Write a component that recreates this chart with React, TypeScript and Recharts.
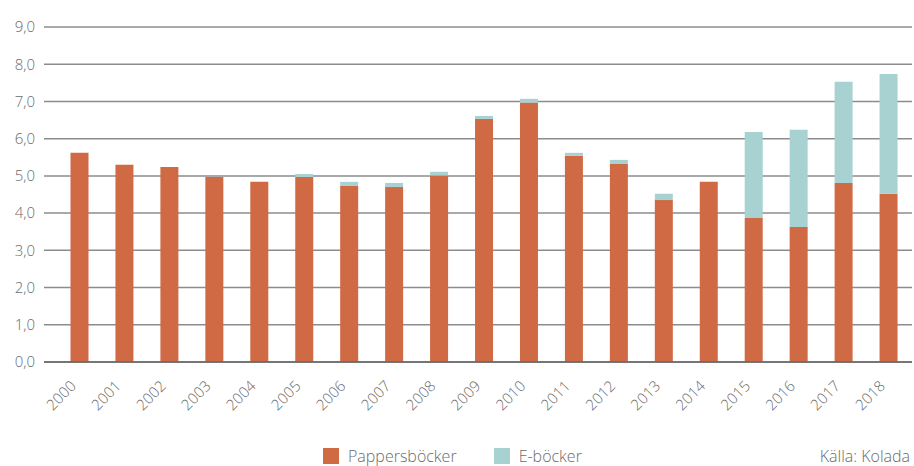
import { BarChart, Bar, XAxis, YAxis, CartesianGrid } from 'recharts';

const YEARS = ['2000', '2001', '2002', '2003', '2004', '2005', '2006', '2007', '2008', '2009', '2010', '2011', '2012', '2013', '2014', '2015', '2016', '2017', '2018'];
const PAPER = [5.62, 5.3, 5.24, 4.97, 4.84, 4.97, 4.73, 4.7, 5.01, 6.53, 6.97, 5.54, 5.32, 4.35, 4.84, 3.87, 3.63, 4.81, 4.52];
const EBOOK = [0, 0, 0, 0, 0, 0.08, 0.11, 0.11, 0.1, 0.08, 0.1, 0.08, 0.11, 0.17, 0, 2.31, 2.61, 2.72, 3.22];
const Y_TICKS = [0, 1, 2, 3, 4, 5, 6, 7, 8, 9];

const ORANGE = '#d06a45';
const TEAL = '#a8d1d1';
const TEXT = '#6b6b6b';
const FONT = '"Open Sans", sans-serif';

const data = YEARS.map((year, i) => ({ year, paper: PAPER[i], ebook: EBOOK[i] }));

const fmt = (v: number) => v.toFixed(1).replace('.', ',');

// rotated year label, end of the text sits just below-left of the tick
const YearTick = (props: any) => {
  const { x, y, payload } = props;
  return (
    <g transform={`translate(${x - 3},${y + 25})`}>
      <text
        x={0}
        y={0}
        textAnchor="end"
        transform="rotate(-45)"
        fill={TEXT}
        fontSize={15}
        fontFamily={FONT}
        fontWeight={300}
      >
        {payload.value}
      </text>
    </g>
  );
};

const LegendItem = ({ color, label }: { color: string; label: string }) => (
  <div style={{ display: 'flex', alignItems: 'center', marginRight: 37, whiteSpace: 'nowrap' }}>
    <div style={{ width: 16, height: 16, background: color, marginRight: 9 }} />
    <span>{label}</span>
  </div>
);

const App = () => {
  return (
    <div style={{ position: 'absolute', left: 0, top: 0, width: 914, height: 466, fontFamily: FONT }}>
      <BarChart width={914} height={466} data={data} margin={{ top: 27, right: 2, left: 0, bottom: 0 }}>
        <CartesianGrid vertical={false} stroke="#8c8c8c" strokeWidth={1.5} />
        <XAxis
          dataKey="year"
          height={104}
          interval={0}
          padding={{ left: 13.5, right: 0.5 }}
          tickLine={false}
          tickSize={0}
          tickMargin={0}
          axisLine={{ stroke: '#666666', strokeWidth: 1.5 }}
          tick={<YearTick />}
        />
        <YAxis
          width={44}
          domain={[0, 9]}
          ticks={Y_TICKS}
          tickFormatter={fmt}
          axisLine={false}
          tickLine={false}
          tickSize={0}
          tickMargin={9}
          tick={{ fill: TEXT, fontSize: 15, fontFamily: FONT, fontWeight: 300 }}
        />
        <Bar dataKey="paper" stackId="a" fill={ORANGE} barSize={18} isAnimationActive={false} />
        <Bar dataKey="ebook" stackId="a" fill={TEAL} barSize={18} isAnimationActive={false} />
      </BarChart>
      <div
        style={{
          position: 'absolute',
          left: 323,
          top: 444,
          display: 'flex',
          fontSize: 16,
          fontWeight: 300,
          color: TEXT,
          lineHeight: '24px',
        }}
      >
        <LegendItem color={ORANGE} label="Pappersböcker" />
        <LegendItem color={TEAL} label="E-böcker" />
      </div>
      <div
        style={{
          position: 'absolute',
          right: 4,
          top: 444,
          fontSize: 16,
          fontWeight: 300,
          color: TEXT,
          lineHeight: '24px',
          whiteSpace: 'nowrap',
        }}
      >
        Källa: Kolada
      </div>
    </div>
  );
};

export default App;
